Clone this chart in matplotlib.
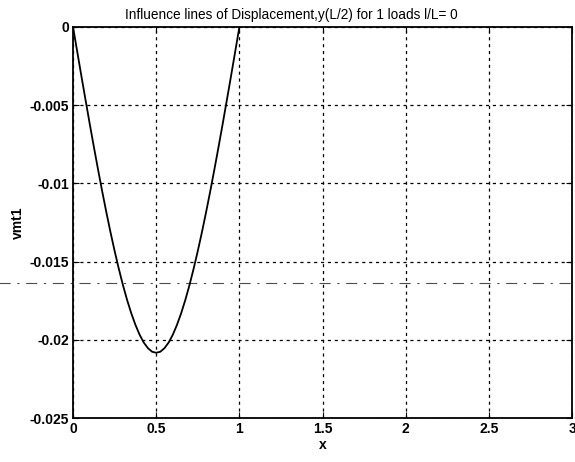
import matplotlib
matplotlib.use("Agg")
import matplotlib.pyplot as plt

plt.rcParams['font.family'] = ['Liberation Sans', 'DejaVu Sans']

x_pos = [0.0, 0.025, 0.05, 0.075, 0.1, 0.125, 0.15, 0.175, 0.2, 0.225, 0.25,
         0.275, 0.3, 0.325, 0.35, 0.375, 0.4, 0.425, 0.45, 0.475, 0.5,
         0.525, 0.55, 0.575, 0.6, 0.625, 0.65, 0.675, 0.7, 0.725, 0.75,
         0.775, 0.8, 0.825, 0.85, 0.875, 0.9, 0.925, 0.95, 0.975, 1.0]
vmt1_half = [0.0, -0.00156, -0.00312, -0.00465, -0.00617, -0.00765, -0.00909,
             -0.01049, -0.01183, -0.01311, -0.01432, -0.01545, -0.0165,
             -0.01745, -0.0183, -0.01904, -0.01967, -0.02017, -0.02053,
             -0.02076, -0.02083]
vmt1 = vmt1_half + vmt1_half[-2::-1]
xticks = [0, 0.5, 1, 1.5, 2, 2.5, 3]
xticklabels = ['0', '0.5', '1', '1.5', '2', '2.5', '3']
yticks = [0, -0.005, -0.01, -0.015, -0.02, -0.025]
yticklabels = ['0', '-0.005', '-0.01', '-0.015', '-0.02', '-0.025']
artifact_y = -0.01635

fig = plt.figure(figsize=(5.75, 4.62), dpi=100)
ax = fig.add_axes([0.127, 0.0952, 0.868, 0.8464])
ax.plot(x_pos, vmt1, color='black', lw=1.3)
ax.set_xlim(0, 3)
ax.set_ylim(-0.025, 0)
ax.set_xticks(xticks)
ax.set_xticklabels(xticklabels)
ax.set_yticks(yticks)
ax.set_yticklabels(yticklabels)
ax.grid(True, color='black', linestyle=(0, (2.5, 3)), lw=0.9)
ax.tick_params(direction='in', length=4, top=True, right=True, labelsize=10, pad=3)
for s in ax.spines.values():
    s.set_linewidth(1.3)
ax.set_title('Influence lines of Displacement,y(L/2) for 1 loads l/L= 0',
             fontsize=9.8, pad=6, x=0.437)
ax.set_xlabel('x', fontsize=10, fontweight='bold', labelpad=1)
ax.set_ylabel('vmt1', fontsize=10, fontweight='bold', labelpad=3)
for lab in ax.get_xticklabels() + ax.get_yticklabels():
    lab.set_fontweight('bold')

# scan artifact line across the figure
ax.plot([-0.45, 3.02], [artifact_y, artifact_y], color='black', lw=0.8,
        linestyle=(0, (10, 6, 2, 6)), alpha=0.7, clip_on=False)

fig.savefig('out.png', dpi=100)
